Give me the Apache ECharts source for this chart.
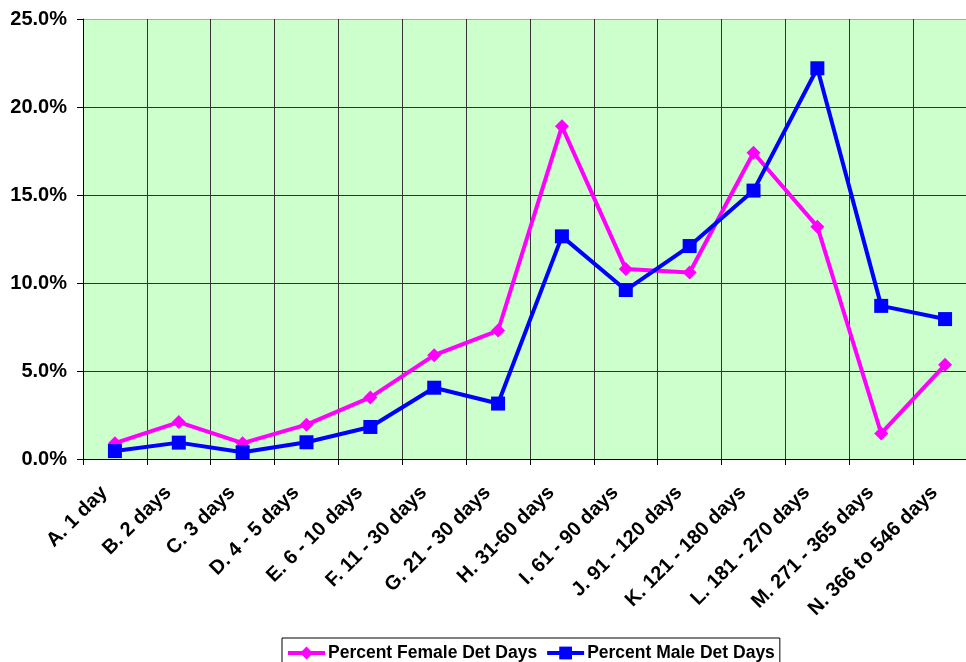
<!DOCTYPE html>
<html>
<head>
<meta charset="utf-8">
<script src="https://cdn.jsdelivr.net/npm/echarts@6/dist/echarts.min.js"></script>
<style>
  html, body { margin: 0; padding: 0; background: #ffffff; overflow: hidden; }
  /* plot area runs a little past the right edge of the window */
  #chart { width: 990px; height: 662px; }
</style>
</head>
<body>
<div id="chart"></div>
<script>
// Length-of-detention buckets
const categories = [
  'A. 1 day', 'B. 2 days', 'C. 3 days', 'D. 4 - 5 days', 'E. 6 - 10 days',
  'F. 11 - 30 days', 'G. 21 - 30 days', 'H. 31-60 days', 'I. 61 - 90 days',
  'J. 91 - 120 days', 'K. 121 - 180 days', 'L. 181 - 270 days',
  'M. 271 - 365 days', 'N. 366 to 546 days'
];

// Share of detention days per bucket (percent)
const femalePct = [0.9, 2.1, 0.9, 1.95, 3.5, 5.9, 7.3, 18.9, 10.8, 10.6, 17.4, 13.2, 1.45, 5.35];
const malePct   = [0.45, 0.93, 0.38, 0.95, 1.82, 4.05, 3.15, 12.65, 9.6, 12.1, 15.25, 22.2, 8.7, 7.95];

const yTicks = { min: 0, max: 25, interval: 5 };

const FONT = '"Liberation Sans", Arial, sans-serif';

const chart = echarts.init(document.getElementById('chart'), null, { renderer: 'canvas' });

chart.setOption({
  animation: false,
  backgroundColor: '#ffffff',
  grid: {
    left: 83, top: 19, width: 894, height: 440,
    show: true, backgroundColor: '#CCFFCC', borderWidth: 0
  },
  legend: {
    left: 282, top: 638,
    padding: [6, 5, 8, 4],
    itemGap: 8,
    itemWidth: 37,
    itemHeight: 16,
    borderColor: '#000000',
    borderWidth: 1,
    backgroundColor: '#ffffff',
    lineStyle: { width: 4 },
    textStyle: { fontFamily: FONT, fontWeight: 'bold', fontSize: 17.5, color: '#000000', padding: [0, 0, 0, -2] },
    data: ['Percent Female Det Days', 'Percent Male Det Days']
  },
  xAxis: {
    type: 'category',
    data: categories,
    boundaryGap: true,
    axisLine: { show: true, lineStyle: { color: '#000000', width: 1 } },
    axisTick: { show: true, length: 6, lineStyle: { color: '#000000' } },
    splitLine: { show: true, lineStyle: { color: '#333333', width: 1 } },
    axisLabel: {
      interval: 0,
      rotate: 45,
      margin: 20,
      padding: [0, 15, 0, 0],
      fontFamily: FONT,
      fontWeight: 'bold',
      fontSize: 20,
      color: '#000000'
    }
  },
  yAxis: {
    type: 'value',
    min: yTicks.min, max: yTicks.max, interval: yTicks.interval,
    axisLine: { show: true, lineStyle: { color: '#000000', width: 1 } },
    axisTick: { show: true, length: 6, lineStyle: { color: '#000000' } },
    splitLine: {
      show: true,
      lineStyle: { color: ['#333333', '#333333', '#333333', '#333333', '#333333', '#A8A8A8'], width: 1 }
    },
    axisLabel: {
      margin: 16,
      fontFamily: FONT,
      fontWeight: 'bold',
      fontSize: 20,
      color: '#000000',
      formatter: v => v.toFixed(1) + '%'
    }
  },
  series: [
    {
      name: 'Percent Female Det Days',
      type: 'line',
      data: femalePct,
      symbol: 'diamond',
      symbolSize: 14,
      itemStyle: { color: '#FF00FF' },
      lineStyle: { color: '#FF00FF', width: 4 },
      z: 3
    },
    {
      name: 'Percent Male Det Days',
      type: 'line',
      data: malePct,
      symbol: 'rect',
      symbolSize: 14,
      itemStyle: { color: '#0000FF' },
      lineStyle: { color: '#0000FF', width: 4 },
      z: 4
    }
  ]
});
</script>
</body>
</html>
